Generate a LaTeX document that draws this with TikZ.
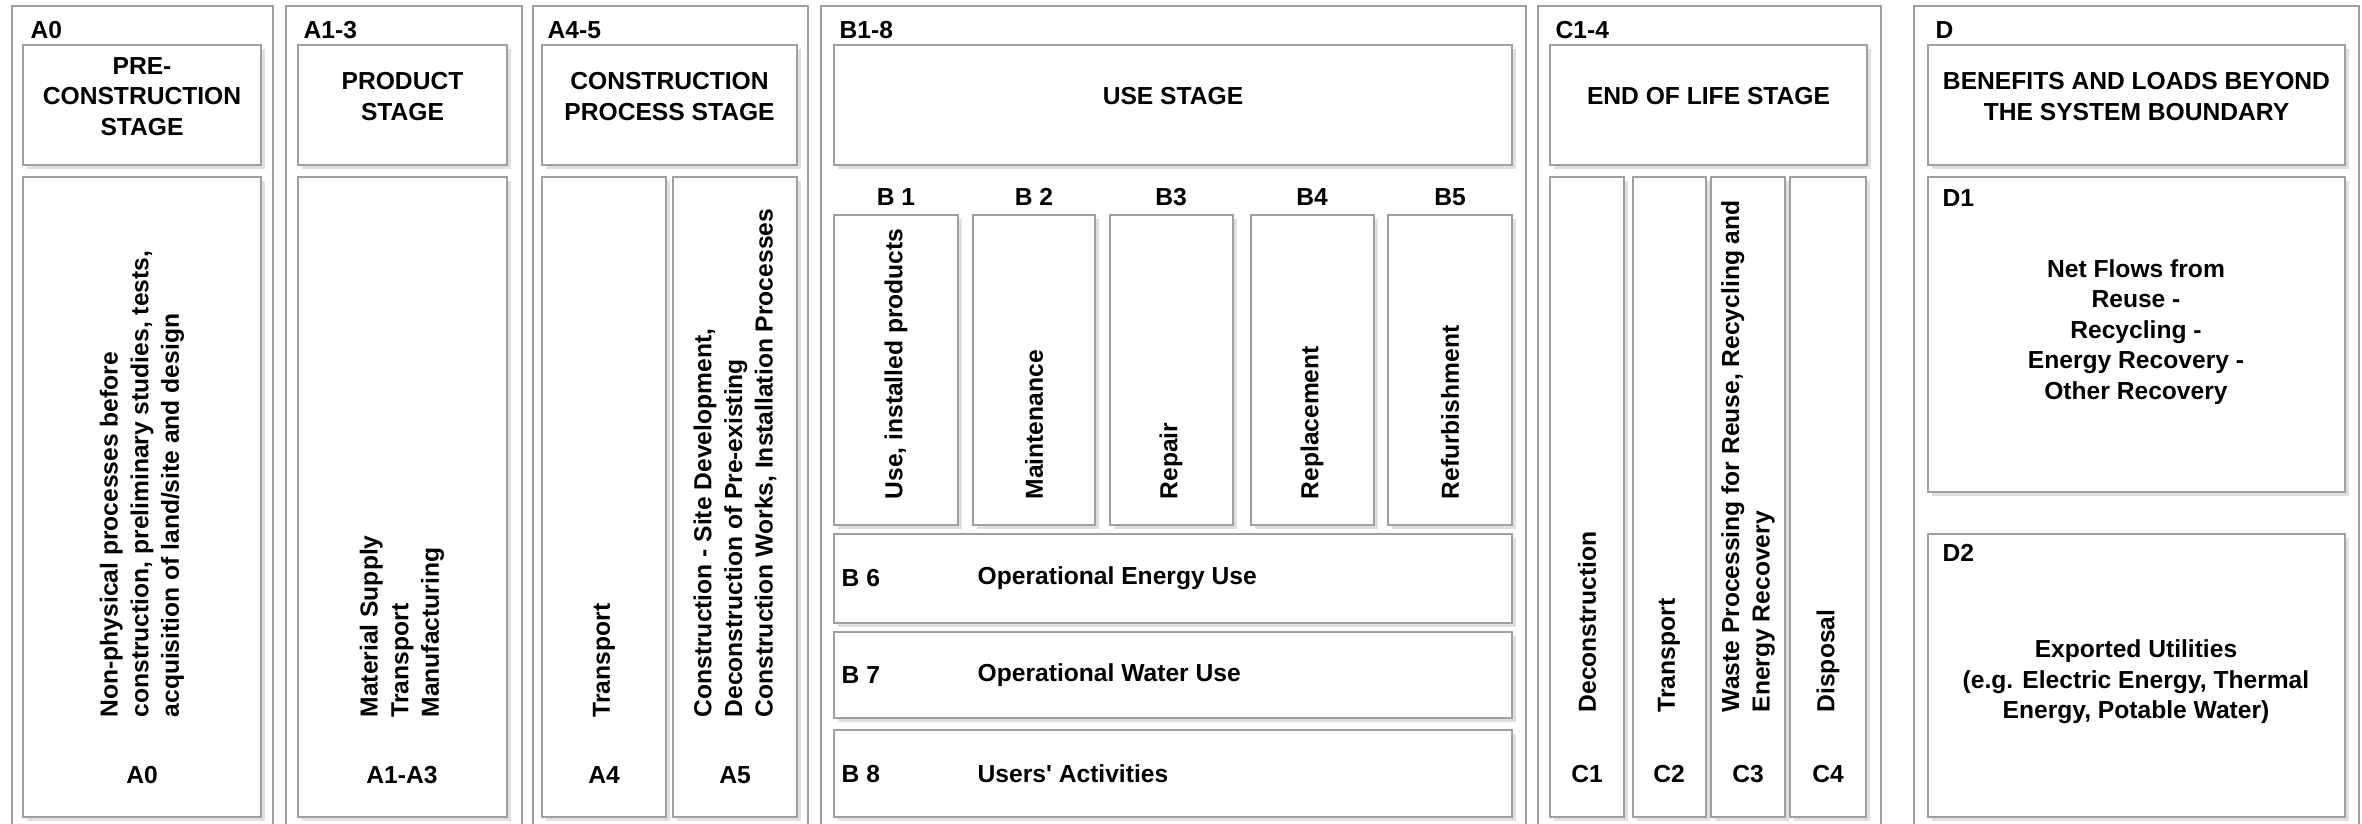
\documentclass[tikz,border=0pt]{standalone}
\usepackage{fontspec}
\setmainfont{Liberation Sans}
\usetikzlibrary{fit,shadows}

\begin{document}
\begin{tikzpicture}[x=0.01cm,y=-0.01cm,font=\fontsize{7}{8.7}\selectfont\bfseries]
\tikzstyle{stagecol}=[draw=gray!75,line width=0.6pt,inner sep=0pt]
\tikzstyle{boxcell}=[draw=gray!75,line width=0.6pt,inner sep=0pt,fill=white,align=center,drop shadow={shadow xshift=1.1pt,shadow yshift=-1.1pt,fill=gray!25,opacity=1}]
\tikzstyle{codetag}=[anchor=west,inner sep=0pt]
\tikzstyle{vtext}=[rotate=90,anchor=west,align=left,inner sep=0pt]
\tikzstyle{tag}=[inner sep=0pt,align=center]

\useasboundingbox (0,0) rectangle (2362,823);
\clip (0,0) rectangle (2362,823);

% stage columns
\node[stagecol,fit={(12,6) (273,840)}] (colA0) {};
\node[stagecol,fit={(286,6) (522,840)}] (colA13) {};
\node[stagecol,fit={(533,6) (808,840)}] (colA45) {};
\node[stagecol,fit={(821,6) (1526,840)}] (colB) {};
\node[stagecol,fit={(1538,6) (1881,840)}] (colC) {};
\node[stagecol,fit={(1914,6) (2359,840)}] (colD) {};

\node[codetag] (kA0) at (30,30) {A0};
\node[codetag] (kA13) at (303,30) {A1-3};
\node[codetag] (kA45) at (547,30) {A4-5};
\node[codetag] (kB) at (839,30) {B1-8};
\node[codetag] (kC) at (1555,30) {C1-4};
\node[codetag] (kD) at (1935,30) {D};

% stage headers
\node[boxcell,fit={(23,45) (261,165)}] (hdA0) {PRE-\\CONSTRUCTION\\STAGE};
\node[boxcell,fit={(298,45) (507,165)}] (hdA13) {PRODUCT\\STAGE};
\node[boxcell,fit={(542,45) (797,165)}] (hdA45) {CONSTRUCTION\\PROCESS STAGE};
\node[boxcell,fit={(834,45) (1512,165)}] (hdB) {USE STAGE};
\node[boxcell,fit={(1550,45) (1867,165)}] (hdC) {END OF LIFE STAGE};
\node[boxcell,fit={(1928,45) (2345,165)}] (hdD) {BENEFITS AND LOADS BEYOND\\THE SYSTEM BOUNDARY};

% A modules
\node[boxcell,fit={(23,177) (261,817)}] (bxA0) {};
\node[boxcell,fit={(298,177) (507,817)}] (bxA13) {};
\node[boxcell,fit={(542,177) (666,817)}] (bxA4) {};
\node[boxcell,fit={(673,177) (797,817)}] (bxA5) {};

\node[vtext] (tA0) at (142,718) {Non-physical processes before\\construction, preliminary studies, tests,\\acquisition of land/site and design};
\node[vtext] (tA13) at (402,718) {Material Supply\\Transport\\Manufacturing};
\node[vtext] (tA4) at (604,718) {Transport};
\node[vtext] (tA5) at (735,718) {Construction - Site Development,\\Deconstruction of Pre-existing\\Construction Works, Installation Processes};

\node[tag] (nA0) at (142,775) {A0};
\node[tag] (nA13) at (402,775) {A1-A3};
\node[tag] (nA4) at (604,775) {A4};
\node[tag] (nA5) at (735,775) {A5};

% B modules
\node[tag] (nB1) at (896,197) {B 1};
\node[tag] (nB2) at (1034,197) {B 2};
\node[tag] (nB3) at (1171,197) {B3};
\node[tag] (nB4) at (1312,197) {B4};
\node[tag] (nB5) at (1450,197) {B5};

\node[boxcell,fit={(834,215) (958,525)}] (bxB1) {};
\node[boxcell,fit={(973,215) (1095,525)}] (bxB2) {};
\node[boxcell,fit={(1110,215) (1233,525)}] (bxB3) {};
\node[boxcell,fit={(1251,215) (1374,525)}] (bxB4) {};
\node[boxcell,fit={(1388,215) (1512,525)}] (bxB5) {};

\node[vtext] (tB1) at (896,500) {Use, installed products};
\node[vtext] (tB2) at (1034,500) {Maintenance};
\node[vtext] (tB3) at (1171,500) {Repair};
\node[vtext] (tB4) at (1312,500) {Replacement};
\node[vtext] (tB5) at (1450,500) {Refurbishment};

\node[boxcell,fit={(834,534) (1512,623)}] (bxB6) {};
\node[boxcell,fit={(834,632) (1512,718)}] (bxB7) {};
\node[boxcell,fit={(834,730) (1512,817)}] (bxB8) {};

\node[codetag] (nB6) at (841,578) {B 6};
\node[codetag] (tB6) at (977,578) {Operational Energy Use};
\node[codetag] (nB7) at (841,675) {B 7};
\node[codetag] (tB7) at (977,675) {Operational Water Use};
\node[codetag] (nB8) at (841,774) {B 8};
\node[codetag] (tB8) at (977,774) {Users\textquotesingle\ Activities};

% C modules
\node[boxcell,fit={(1550,177) (1624,817)}] (bxC1) {};
\node[boxcell,fit={(1633,177) (1706,817)}] (bxC2) {};
\node[boxcell,fit={(1711,177) (1785,817)}] (bxC3) {};
\node[boxcell,fit={(1790,177) (1866,817)}] (bxC4) {};

\node[vtext] (tC1) at (1587,713) {Deconstruction};
\node[vtext] (tC2) at (1669,713) {Transport};
\node[vtext] (tC3) at (1748,713) {Waste Processing for Reuse, Recycling and\\Energy Recovery};
\node[vtext] (tC4) at (1828,713) {Disposal};

\node[tag] (nC1) at (1587,774) {C1};
\node[tag] (nC2) at (1669,774) {C2};
\node[tag] (nC3) at (1748,774) {C3};
\node[tag] (nC4) at (1828,774) {C4};

% D modules
\node[boxcell,fit={(1928,177) (2345,492)}] (bxD1) {};
\node[boxcell,fit={(1928,534) (2345,817)}] (bxD2) {};

\node[codetag] (nD1) at (1942,198) {D1};
\node[tag] (tD1) at (2136,332) {Net Flows from\\Reuse -\\Recycling -\\Energy Recovery -\\Other Recovery};
\node[codetag] (nD2) at (1942,553) {D2};
\node[tag] (tD2) at (2136,682) {Exported Utilities\\(e.g. Electric Energy, Thermal\\Energy, Potable Water)};
\end{tikzpicture}
\end{document}
